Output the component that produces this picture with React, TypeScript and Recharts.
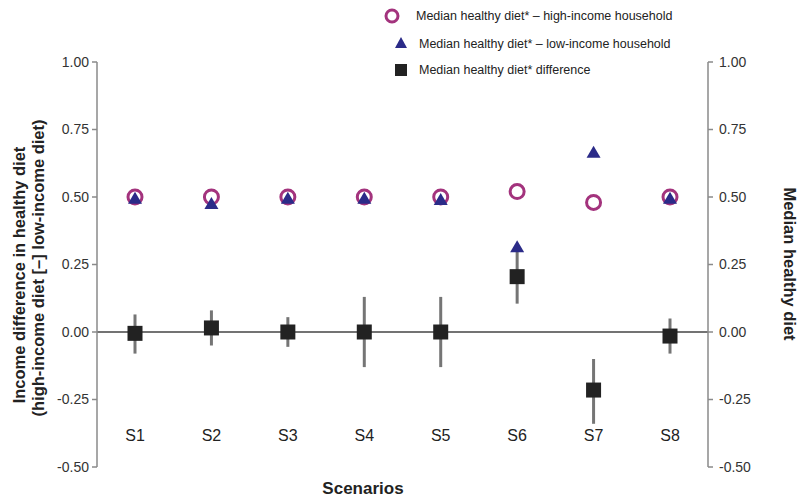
import React from "react";
import {
  ComposedChart,
  Line,
  XAxis,
  YAxis,
  ReferenceLine,
  ErrorBar,
} from "recharts";

const scenarios = ["S1", "S2", "S3", "S4", "S5", "S6", "S7", "S8"];
const highIncome = [0.5, 0.5, 0.5, 0.5, 0.5, 0.52, 0.48, 0.5];
const lowIncome = [0.49, 0.47, 0.49, 0.49, 0.485, 0.31, 0.66, 0.49];
const difference = [-0.005, 0.015, 0.0, 0.0, 0.0, 0.205, -0.215, -0.015];
const diffLower = [-0.08, -0.05, -0.055, -0.13, -0.13, 0.105, -0.34, -0.08];
const diffUpper = [0.065, 0.08, 0.055, 0.13, 0.13, 0.3, -0.1, 0.05];
const yTicks = [-0.5, -0.25, 0, 0.25, 0.5, 0.75, 1.0];

const legendLabels = [
  "Median healthy diet* \u2013 high-income household",
  "Median healthy diet* \u2013 low-income household",
  "Median healthy diet* difference",
];
const leftTitle = ["Income difference in healthy diet", "(high-income diet [\u2013] low-income diet)"];
const rightTitle = "Median healthy diet";
const xTitle = "Scenarios";

const data = scenarios.map((name, i) => ({
  name,
  high: highIncome[i],
  low: lowIncome[i],
  diff: difference[i],
  err: [difference[i] - diffLower[i], diffUpper[i] - difference[i]],
}));

const FONT = "'Liberation Sans', Arial, Helvetica, sans-serif";
const MAGENTA = "#a3337d";
const NAVY = "#2b2b88";
const SQUARE = "#222222";

const CircleDot = (props: any) => {
  const { cx, cy, index } = props;
  if (cx == null || cy == null) return <g key={index} />;
  return (
    <circle key={index} cx={cx} cy={cy} r={7} fill="none" stroke={MAGENTA} strokeWidth={3} />
  );
};

const TriangleDot = (props: any) => {
  const { cx, cy, index } = props;
  if (cx == null || cy == null) return <g key={index} />;
  const w = 14;
  const h = 12;
  const pts = `${cx},${cy - (2 * h) / 3} ${cx - w / 2},${cy + h / 3} ${cx + w / 2},${cy + h / 3}`;
  return <polygon key={index} points={pts} fill={NAVY} />;
};

const SquareDot = (props: any) => {
  const { cx, cy, index } = props;
  if (cx == null || cy == null) return <g key={index} />;
  const s = 15;
  return <rect key={index} x={cx - s / 2} y={cy - s / 2} width={s} height={s} fill={SQUARE} />;
};

const XTick = (props: any) => {
  const { x, y, payload } = props;
  return (
    <text
      x={x}
      y={y - 34}
      textAnchor="middle"
      fontSize={16}
      fill="#222"
      fontFamily={FONT}
    >
      {payload.value}
    </text>
  );
};

const axisCommon = {
  domain: [-0.5, 1] as [number, number],
  ticks: yTicks,
  width: 60,
  tickFormatter: (v: number) => v.toFixed(2),
  axisLine: { stroke: "#8a8a8a", strokeWidth: 1.5 },
  tickLine: { stroke: "#8a8a8a", strokeWidth: 1.5 },
  tickSize: 5,
  tick: { fontSize: 14, fill: "#333", fontFamily: FONT },
  allowDataOverflow: true,
  interval: 0 as const,
};

const titleStyle = {
  textAnchor: "middle" as const,
  dominantBaseline: "central" as const,
  fontSize: 16.5,
  fontWeight: "bold" as const,
  fill: "#222",
  fontFamily: FONT,
};

export default function App() {
  return (
    <div style={{ position: "absolute", left: 0, top: 0, width: 801, height: 501, background: "#fff" }}>
      <ComposedChart
        width={801}
        height={501}
        data={data}
        margin={{ top: 62, right: 33, bottom: 4, left: 37 }}
      >
        <XAxis
          dataKey="name"
          axisLine={false}
          tickLine={false}
          tick={<XTick />}
          height={30}
          interval={0}
          padding={{ left: 38, right: 38 }}
        />
        <YAxis yAxisId="left" orientation="left" tickMargin={3} {...axisCommon} />
        <YAxis yAxisId="right" orientation="right" tickMargin={6} {...axisCommon} />
        <ReferenceLine yAxisId="left" y={0} stroke="#444" strokeWidth={1.5} />
        <Line
          yAxisId="right"
          dataKey="high"
          stroke="none"
          isAnimationActive={false}
          dot={false}
          activeDot={false}
          legendType="none"
        />
        <Line
          yAxisId="left"
          dataKey="diff"
          stroke="none"
          isAnimationActive={false}
          dot={SquareDot}
          activeDot={false}
          legendType="none"
        >
          <ErrorBar dataKey="err" width={0} stroke="#757575" strokeWidth={3} direction="y" />
        </Line>
        <Line
          yAxisId="left"
          dataKey="high"
          stroke="none"
          isAnimationActive={false}
          dot={CircleDot}
          activeDot={false}
          legendType="none"
        />
        <Line
          yAxisId="left"
          dataKey="low"
          stroke="none"
          isAnimationActive={false}
          dot={TriangleDot}
          activeDot={false}
          legendType="none"
        />
      </ComposedChart>
      <svg
        width={801}
        height={501}
        style={{ position: "absolute", left: 0, top: 0, pointerEvents: "none" }}
      >
        <circle cx={392} cy={16} r={6} fill="none" stroke={MAGENTA} strokeWidth={3} />
        <polygon points="401,37 395,48 407,48" fill={NAVY} />
        <rect x={395} y={64} width={12} height={12} fill={SQUARE} />
        <text x={416} y={16} dominantBaseline="central" fontSize={12.5} fill="#222" fontFamily={FONT}>
          {legendLabels[0]}
        </text>
        <text x={419} y={44} dominantBaseline="central" fontSize={12.5} fill="#222" fontFamily={FONT}>
          {legendLabels[1]}
        </text>
        <text x={419} y={70} dominantBaseline="central" fontSize={12.5} fill="#222" fontFamily={FONT}>
          {legendLabels[2]}
        </text>
        <text x={363} y={488} {...titleStyle} fontSize={17}>
          {xTitle}
        </text>
        <text transform="translate(19,275) rotate(-90)" {...titleStyle}>
          {leftTitle[0]}
        </text>
        <text transform="translate(38,268) rotate(-90)" {...titleStyle}>
          {leftTitle[1]}
        </text>
        <text transform="translate(790,264) rotate(90)" {...titleStyle}>
          {rightTitle}
        </text>
      </svg>
    </div>
  );
}
